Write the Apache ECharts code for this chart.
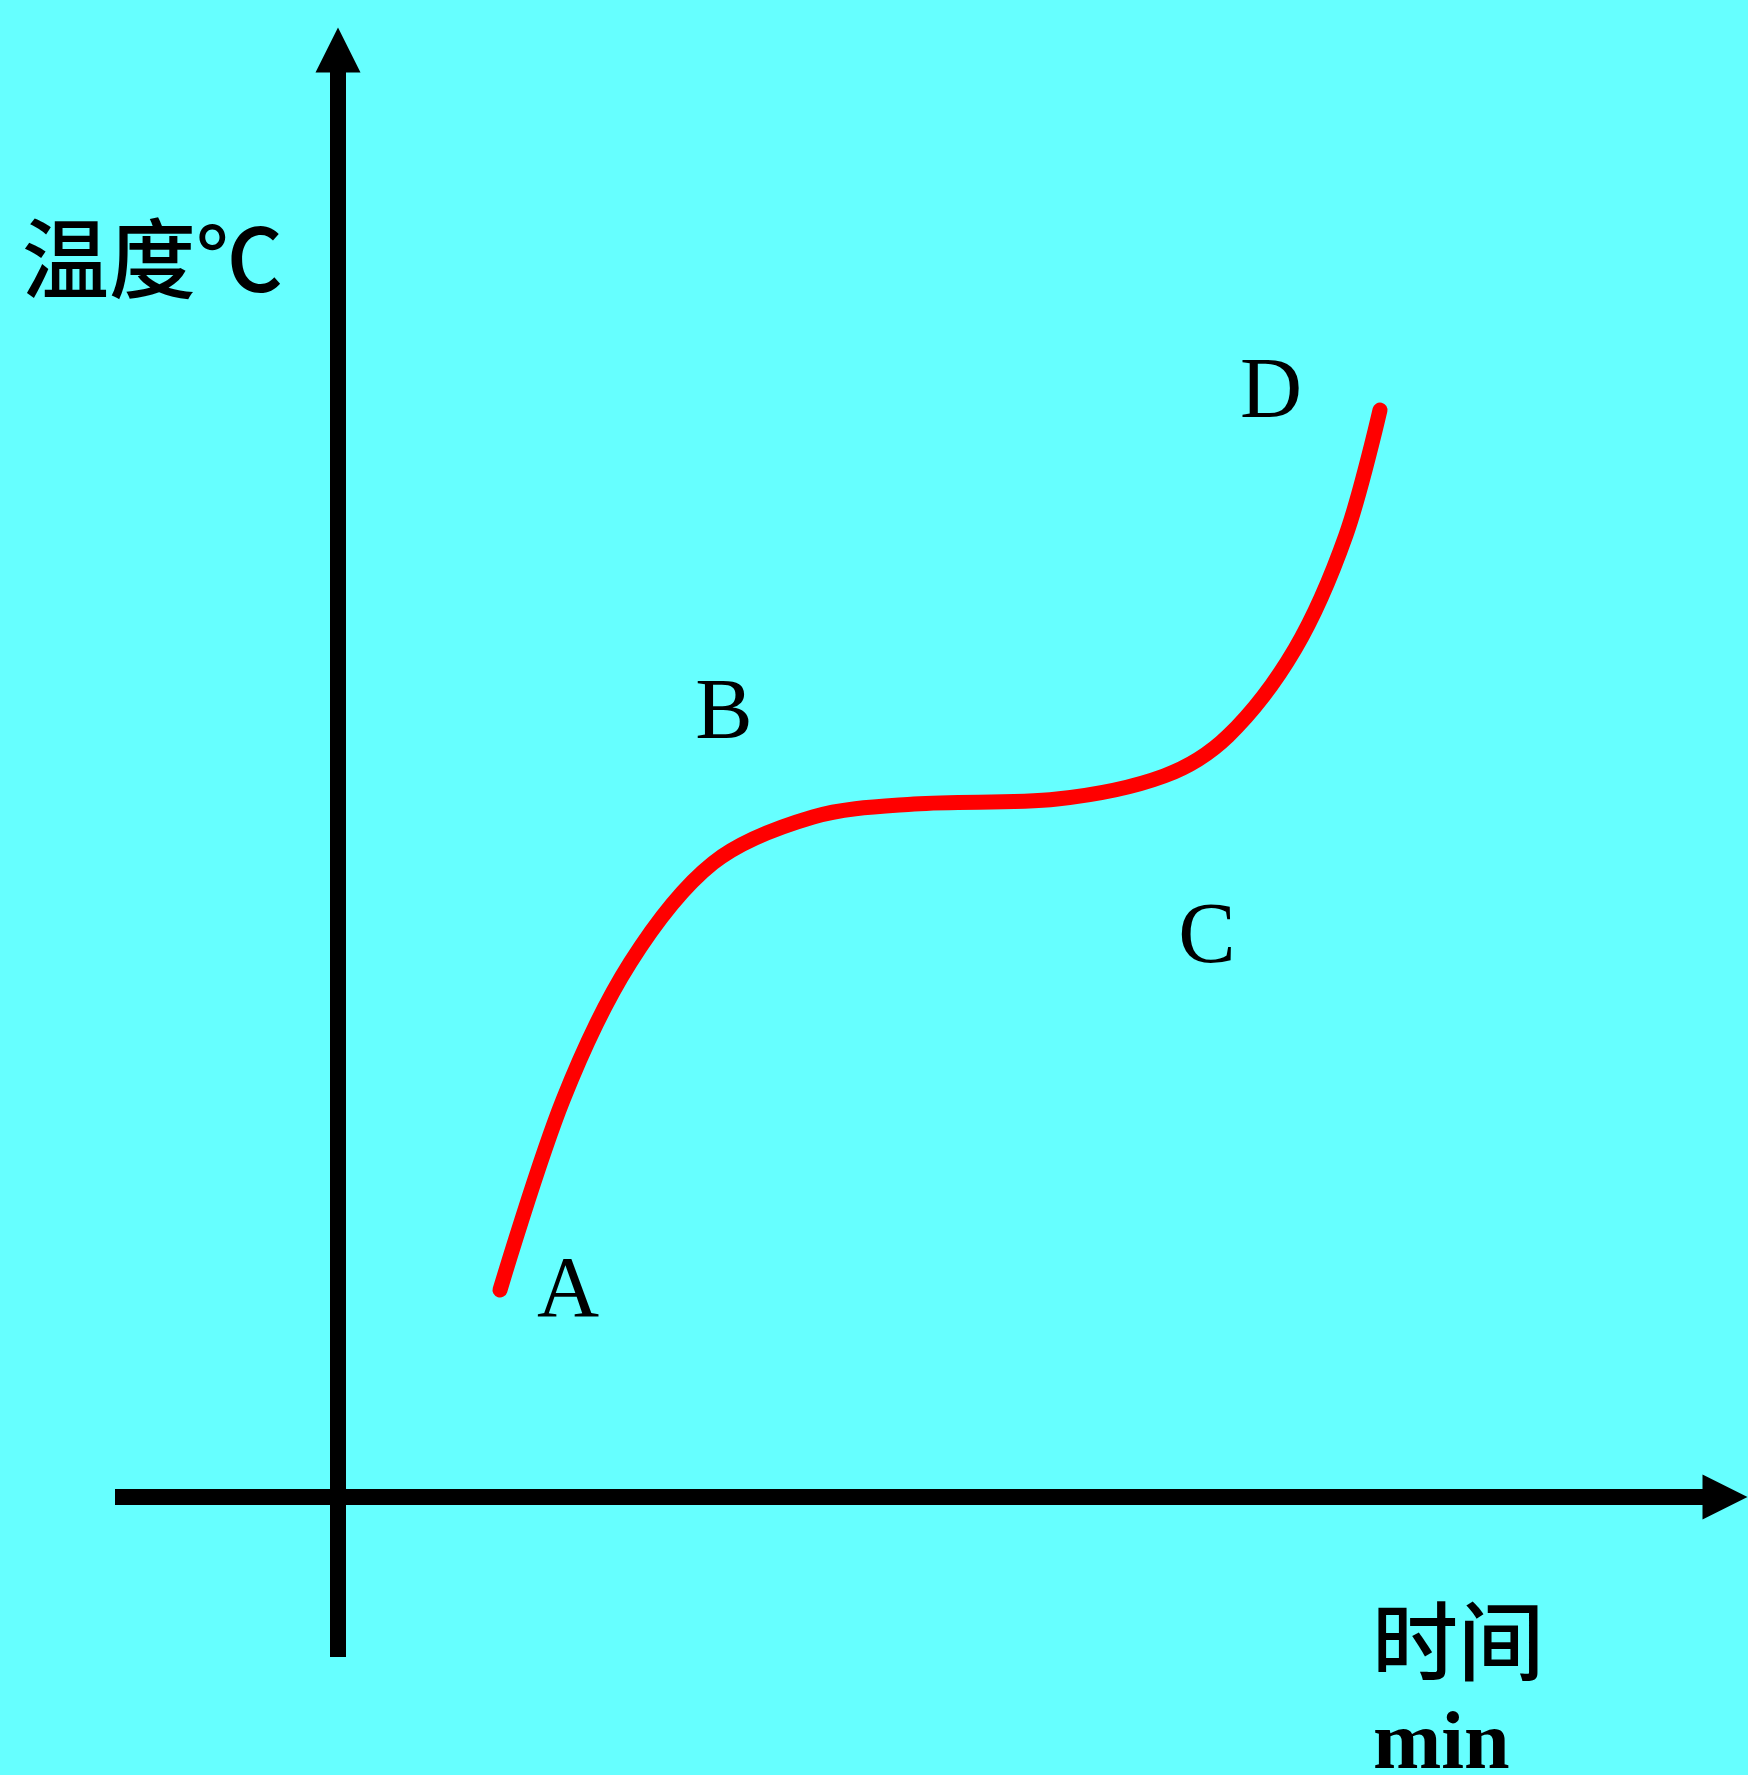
<!DOCTYPE html>
<html>
<head>
<meta charset="utf-8">
<script src="https://cdn.jsdelivr.net/npm/echarts@6/dist/echarts.min.js"></script>
<style>
  html, body { margin: 0; padding: 0; background: #66ffff; }
  #chart { width: 1748px; height: 1775px; }
</style>
</head>
<body>
<div id="chart"></div>
<script>
// heating curve (arbitrary units, no ticks shown)
let timeVals = [1.62, 2.25, 2.92, 3.75, 4.75, 5.76, 7.19, 8.26, 8.90, 9.57, 10.08, 10.42];
let tempVals = [2.07, 3.97, 5.34, 6.34, 6.80, 6.93, 6.98, 7.21, 7.61, 8.48, 9.62, 10.87];

// point letters A-D
let pointNames = ['A', 'B', 'C', 'D'];
let pointX = [2.30, 3.86, 8.69, 9.33];
let pointY = [2.04, 7.82, 5.58, 11.03];

let yName = '温度℃';
let xName = '时间';
let xUnit = 'min';

let serif = '"Liberation Serif", "Times New Roman", serif';
let cjk = '"Noto Sans CJK SC", sans-serif';

let curve = timeVals.map((t, i) => [t, tempVals[i]]);
let letters = pointNames.map((n, i) => ({name: n, value: [pointX[i], pointY[i]]}));

let axisStyle = {
  show: true,
  onZero: true,
  symbol: ['none', 'triangle'],
  symbolSize: [45, 45],
  lineStyle: {color: '#000', width: 16, cap: 'butt'}
};

let option = {
  backgroundColor: '#66ffff',
  animation: false,
  grid: {left: 115, right: 23, top: 50, bottom: 118},
  xAxis: {
    type: 'value', min: -2.23, max: 13.87,
    axisLine: axisStyle,
    axisTick: {show: false}, axisLabel: {show: false}, splitLine: {show: false}
  },
  yAxis: {
    type: 'value', min: -1.6, max: 14.47,
    axisLine: axisStyle,
    axisTick: {show: false}, axisLabel: {show: false}, splitLine: {show: false}
  },
  graphic: [
    {type: 'text', left: 22, top: 215,
      style: {text: yName, font: '500 87px ' + cjk, fill: '#000'}},
    {type: 'text', left: 1372, top: 1598,
      style: {text: xName, font: '500 86px ' + cjk, fill: '#000'}},
    {type: 'text', left: 1373, top: 1706,
      style: {text: xUnit, font: 'bold 82px ' + serif, fill: '#000'}}
  ],
  series: [
    {
      type: 'line',
      data: curve,
      smooth: 0.33,
      showSymbol: false,
      lineStyle: {color: '#ff0000', width: 15, cap: 'round', join: 'round'}
    },
    {
      type: 'scatter',
      data: letters,
      symbolSize: 0,
      itemStyle: {opacity: 1},
      label: {
        show: true, position: 'inside', formatter: '{b}',
        color: '#000', fontSize: 86, fontFamily: serif
      }
    }
  ]
};

let chart = echarts.init(document.getElementById('chart'));
chart.setOption(option);
</script>
</body>
</html>
